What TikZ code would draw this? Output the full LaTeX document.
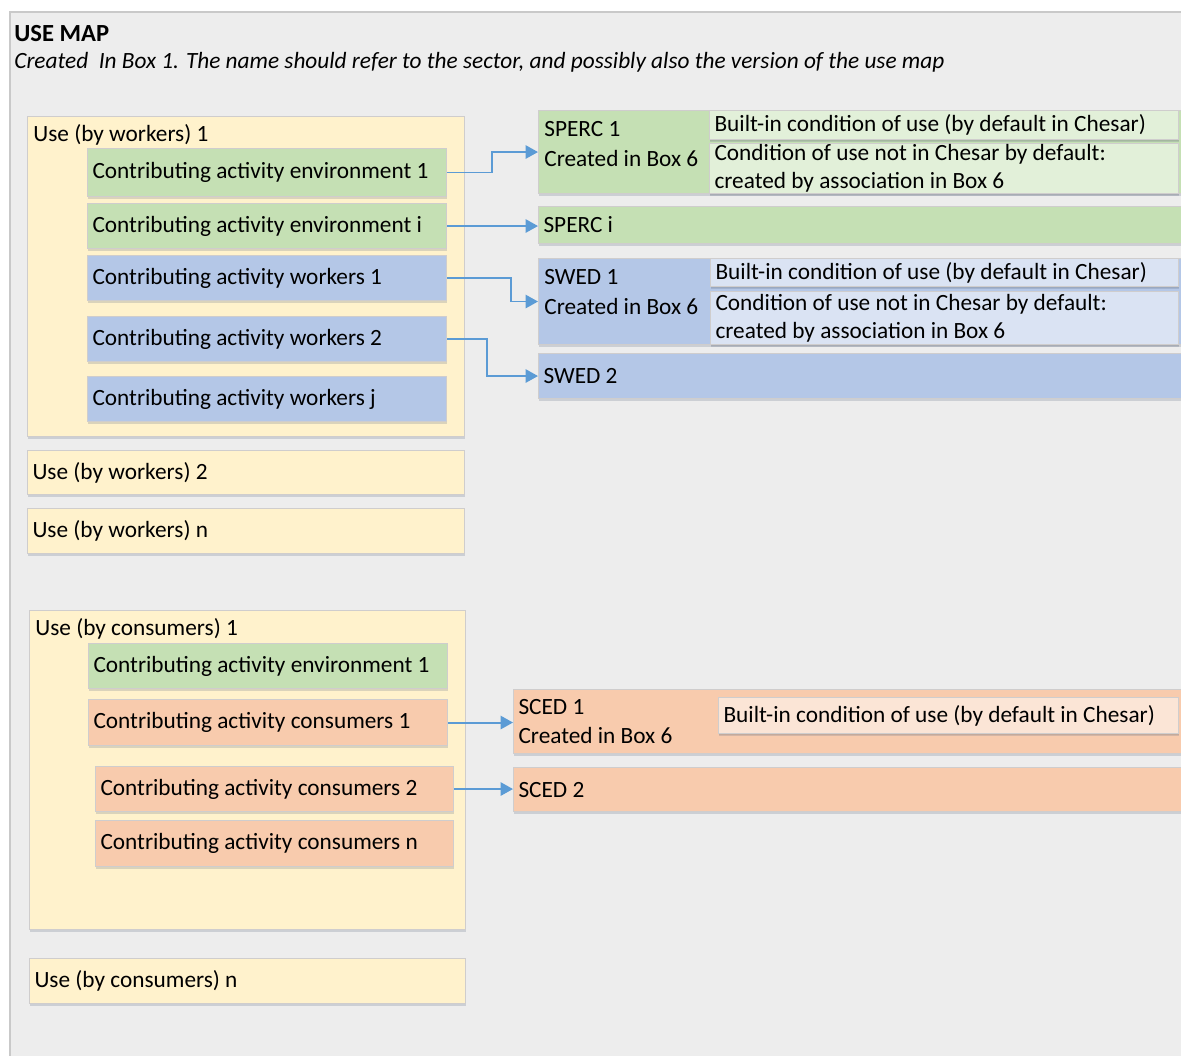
\documentclass[tikz,border=0pt]{standalone}
\usepackage{fontspec}
\setmainfont{Carlito}
\usepackage{xcolor}
\usepackage{tikz}
\usetikzlibrary{arrows.meta, positioning, shadows}
\definecolor{bggray}{HTML}{EDEDED}
\definecolor{framegray}{HTML}{C9C9C9}
\definecolor{boxgray}{HTML}{CFCDCD}
\definecolor{useyellow}{HTML}{FFF2CC}
\definecolor{envgreen}{HTML}{C5E0B4}
\definecolor{envlight}{HTML}{E2F0D9}
\definecolor{wrkblue}{HTML}{B4C7E7}
\definecolor{wrklight}{HTML}{DAE3F3}
\definecolor{conorange}{HTML}{F8CBAD}
\definecolor{conlight}{HTML}{FBE5D6}
\definecolor{arrowblue}{HTML}{5B9BD5}
\newcommand{\mapfont}{\fontsize{13.25}{16}\selectfont}
\tikzset{
  base/.style={rectangle, draw=boxgray, line width=0.6pt, inner xsep=0.1cm, inner ysep=0pt, anchor=north west, font=\mapfont, execute at begin node={\spaceskip=0pt\xspaceskip=0pt\relax}, drop shadow={shadow xshift=0.4pt, shadow yshift=-1.2pt, opacity=0.25, fill=wrkblue!60!black}},
  usebox/.style={base, fill=useyellow},
  envbox/.style={base, fill=envgreen},
  envsub/.style={base, fill=envlight, drop shadow={shadow xshift=0.3pt, shadow yshift=-0.8pt, opacity=0.2}},
  wrkbox/.style={base, fill=wrkblue},
  wrksub/.style={base, fill=wrklight, drop shadow={shadow xshift=0.3pt, shadow yshift=-0.8pt, opacity=0.2}},
  conbox/.style={base, fill=conorange},
  consub/.style={base, fill=conlight, drop shadow={shadow xshift=0.3pt, shadow yshift=-0.8pt, opacity=0.2}},
  lbl/.style={anchor=north west, inner xsep=0.12cm, inner ysep=0.17cm, text width=5cm, font=\fontsize{13.25}{17}\selectfont, execute at begin node={\spaceskip=0pt\xspaceskip=0pt\relax}},
  arrow/.style={line width=1.1pt, draw=arrowblue, -{Triangle[length=7pt, width=7.5pt]}}
}

\begin{document}
\begin{tikzpicture}[node distance=1cm]
\useasboundingbox (0,0) rectangle (23.62,-21.1);
\clip (0,0) rectangle (23.62,-21.1);
\draw[fill=bggray, draw=framegray, line width=0.8pt] (0.2,-0.24) rectangle (24,-22);

\node[anchor=base west, inner sep=0pt, font=\fontsize{14}{16}\selectfont\bfseries] (title) at (0.28,-0.82) {USE MAP};
\node[anchor=base west, inner sep=0pt, font=\mapfont\itshape] (subtitle) at (0.28,-1.36) {Created~ In Box 1. The name should refer to the sector, and possibly also the version of the use map};

\node[usebox, text width=8.54cm, minimum height=6.40cm, label={[lbl]north west:Use (by workers) 1}] (uw1) at (0.54,-2.32) {};
\node[envbox, text width=6.98cm, minimum height=0.96cm] (ce1) at (1.74,-2.96) {Contributing activity environment 1};
\node[envbox, text width=6.98cm, minimum height=0.90cm] (cei) at (1.74,-4.06) {Contributing activity environment i};
\node[wrkbox, text width=6.98cm, minimum height=0.90cm] (cw1) at (1.74,-5.10) {Contributing activity workers 1};
\node[wrkbox, text width=6.98cm, minimum height=0.90cm] (cw2) at (1.74,-6.32) {Contributing activity workers 2};
\node[wrkbox, text width=6.98cm, minimum height=0.90cm] (cwj) at (1.74,-7.52) {Contributing activity workers j};
\node[usebox, text width=8.54cm, minimum height=0.88cm] (uw2) at (0.54,-9.00) {Use (by workers) 2};
\node[usebox, text width=8.54cm, minimum height=0.90cm] (uwn) at (0.54,-10.16) {Use (by workers) n};

\node[envbox, text width=12.74cm, minimum height=1.66cm, label={[lbl, yshift=-0.06cm]north west:{SPERC 1\\Created in Box 6}}] (sperc1) at (10.76,-2.20) {};
\node[envsub, text width=9.18cm, minimum height=0.58cm] (sperc1bi) at (14.18,-2.20) {Built-in condition of use (by default in Chesar)};
\node[envsub, text width=9.18cm, minimum height=1.00cm] (sperc1co) at (14.18,-2.86) {Condition of use not in Chesar by default:\\created by association in Box 6};
\node[envbox, text width=12.74cm, minimum height=0.74cm] (sperci) at (10.76,-4.12) {SPERC i};

\node[wrkbox, text width=12.74cm, minimum height=1.72cm, label={[lbl, yshift=-0.06cm]north west:{SWED 1\\Created in Box 6}}] (swed1) at (10.76,-5.16) {};
\node[wrksub, text width=9.16cm, minimum height=0.56cm] (swed1bi) at (14.20,-5.16) {Built-in condition of use (by default in Chesar)};
\node[wrksub, text width=9.16cm, minimum height=1.06cm] (swed1co) at (14.20,-5.82) {Condition of use not in Chesar by default:\\created by association in Box 6};
\node[wrkbox, text width=12.74cm, minimum height=0.90cm] (swed2) at (10.76,-7.06) {SWED 2};

\node[usebox, text width=8.52cm, minimum height=6.38cm, label={[lbl]north west:Use (by consumers) 1}] (uc1) at (0.58,-12.20) {};
\node[envbox, text width=6.98cm, minimum height=0.90cm] (cce1) at (1.76,-12.86) {Contributing activity environment 1};
\node[conbox, text width=6.98cm, minimum height=0.92cm] (cc1) at (1.76,-13.98) {Contributing activity consumers 1};
\node[conbox, text width=6.96cm, minimum height=0.90cm] (cc2) at (1.90,-15.32) {Contributing activity consumers 2};
\node[conbox, text width=6.96cm, minimum height=0.92cm] (ccn) at (1.90,-16.40) {Contributing activity consumers n};
\node[usebox, text width=8.52cm, minimum height=0.90cm] (ucn) at (0.58,-19.16) {Use (by consumers) n};

\node[conbox, text width=13.24cm, minimum height=1.28cm, font=\fontsize{13.25}{17}\selectfont] (sced1) at (10.26,-13.78) {SCED 1\\Created in Box 6};
\node[consub, text width=9.00cm, minimum height=0.72cm] (sced1bi) at (14.36,-13.94) {Built-in condition of use (by default in Chesar)};
\node[conbox, text width=13.24cm, minimum height=0.88cm] (sced2) at (10.26,-15.34) {SCED 2};

\draw[arrow] (ce1.east) -- ++(0.9,0) |- (sperc1.west);
\draw[arrow] (cei.east) -- (cei.east -| sperci.west);
\draw[arrow] (cw1.east) -- ++(1.28,0) |- (swed1.west);
\draw[arrow] (cw2.east) -- ++(0.8,0) |- (swed2.west);
\draw[arrow] (cc1.east) -- (cc1.east -| sced1.west);
\draw[arrow] (cc2.east) -- (cc2.east -| sced2.west);
\end{tikzpicture}
\end{document}
